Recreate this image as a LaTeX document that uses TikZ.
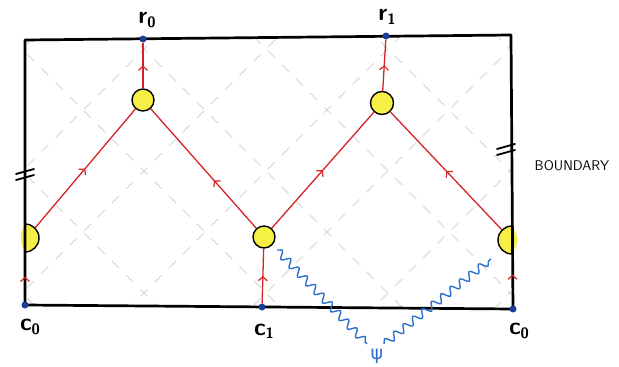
\documentclass[tikz,border=0pt]{standalone}
\usepackage{fontspec}
\newfontfamily\dejavu{DejaVu Sans}
\usetikzlibrary{arrows.meta,decorations.markings,decorations.pathmorphing}
\definecolor{myred}{RGB}{214,36,36}
\definecolor{dotblue}{RGB}{28,62,150}
\definecolor{wblue}{RGB}{45,112,205}
\definecolor{gridc}{RGB}{206,218,208}
\definecolor{ylw}{RGB}{246,240,70}
\newcommand{\mylbl}[2]{#1\raisebox{-0.3ex}{\fontsize{15}{15}\selectfont #2}}
\begin{document}
\begin{tikzpicture}[x=1pt,y=-1pt,
  frame/.style={line width=2.7pt,line join=round,line cap=round},
  latt/.style={gridc,line width=1pt,dash pattern=on 10pt off 10pt},
  redline/.style={myred,line width=1.3pt},
  midarrow/.style={postaction={decorate},decoration={markings,mark=at position #1 with {\arrow{Straight Barb[length=4pt,width=9pt,line width=1.2pt]}}}},
  midarrow/.default=0.5,
  bdot/.style={circle,fill=dotblue,inner sep=0pt,minimum size=7pt},
  ydisk/.style={circle,draw=black,line width=1.4pt,fill=ylw,inner sep=0pt,minimum size=#1},
  ydisk/.default=22pt,
  wave/.style={wblue,line width=1.4pt,decorate,decoration={snake,segment length=12pt,amplitude=3.8pt}},
  lbl/.style={font=\sffamily\bfseries\fontsize{24}{24}\selectfont,inner sep=0pt},
  brk/.style={line width=1.8pt,line cap=round}]
\useasboundingbox (0,0) rectangle (619,367);
% frame corners
\coordinate (TL) at (25,40);
\coordinate (TR) at (511,35);
\coordinate (BR) at (513,309);
\coordinate (BL) at (25,305);
% light dashed lattice
\begin{scope}
  \clip (TL) -- (TR) -- (BR) -- (BL) -- cycle;
  \foreach \c in {271,149,27,-95,-217,-339,-461}
    \draw[latt] (-100,{\c-100}) -- (700,{\c+700});
  \foreach \c in {71,193,315,437,559,681,803}
    \draw[latt] (-100,{\c+100}) -- (700,{\c-700});
\end{scope}
% half disks on the boundary (fill)
\coordinate (hL) at (25,238);
\coordinate (hR) at (512,240);
\fill[ylw] (25,224) arc[start angle=-90,end angle=90,radius=14] -- cycle;
\fill[ylw] (25,227) arc[start angle=-90,end angle=-270,x radius=4,y radius=11] -- cycle;
\fill[ylw] (512,226) arc[start angle=-90,end angle=-270,radius=14] -- cycle;
\fill[ylw] (512,229) arc[start angle=-90,end angle=90,x radius=5,y radius=11] -- cycle;
% frame
\draw[frame] (TL) -- (TR) -- (BR) -- (BL) -- cycle;
\draw[line width=1.4pt] (25,224) arc[start angle=-90,end angle=90,radius=14];
\draw[line width=1.4pt] (512,226) arc[start angle=-90,end angle=-270,radius=14];
\coordinate (hLe) at (35,228);
\coordinate (hLb) at (25,252);
\coordinate (hRe) at (502,230);
\coordinate (hRb) at (512,254);
% break marks
\draw[brk] (16,174) -- (34,169);
\draw[brk] (16,180) -- (34,175);
\draw[brk] (497,149) -- (515,144);
\draw[brk] (497,155) -- (515,150);
% boundary points
\node[bdot] (r0) at (143,39) {};
\node[bdot] (r1) at (386,36) {};
\node[bdot] (c0) at (25,305) {};
\node[bdot] (c1) at (262,307) {};
\node[bdot] (c0r) at (513,309) {};
% yellow vertices
\node[ydisk] (v1) at (143,100) {};
\node[ydisk=23pt] (v2) at (382,103) {};
\node[ydisk=22pt] (v3) at (264,237) {};
% red world lines
\draw[redline,midarrow] (hLe) -- (v1);
\draw[redline,midarrow=0.4] (v3) -- (v1);
\draw[redline,midarrow] (v1) -- (r0);
\draw[redline,midarrow] (v3) -- (v2);
\draw[redline,midarrow] (hRe) -- (v2);
\draw[redline,midarrow] (v2) -- (r1);
\draw[redline,midarrow] (c1) -- (v3);
\path[myred,midarrow] (c0) -- (hLb);
\path[myred,midarrow=0.6] (c0r) -- (hRb);
% wavy lines
\coordinate (wA) at (277,250);
\coordinate (wB) at (367,344);
\coordinate (wC) at (384,344);
\coordinate (wD) at (491,259);
\draw[wave] (wA) -- (wB);
\draw[wave] (wC) -- (wD);
% labels
\node[lbl] (lr0) at (147,20) {\mylbl{r}{0}};
\node[lbl] (lr1) at (387,17) {\mylbl{r}{1}};
\node[lbl] (lc0) at (30,327) {\mylbl{c}{0}};
\node[lbl] (lc1) at (264,331) {\mylbl{c}{1}};
\node[lbl] (lc0r) at (519,331) {\mylbl{c}{0}};
\node[text=wblue,font=\dejavu\fontsize{19}{19}\selectfont,inner sep=0pt] (psi) at (377,356) {ψ};
\node[font=\sffamily\fontsize{14}{14}\selectfont,inner sep=0pt] (bd) at (572,166) {BOUNDARY};
\end{tikzpicture}
\end{document}
